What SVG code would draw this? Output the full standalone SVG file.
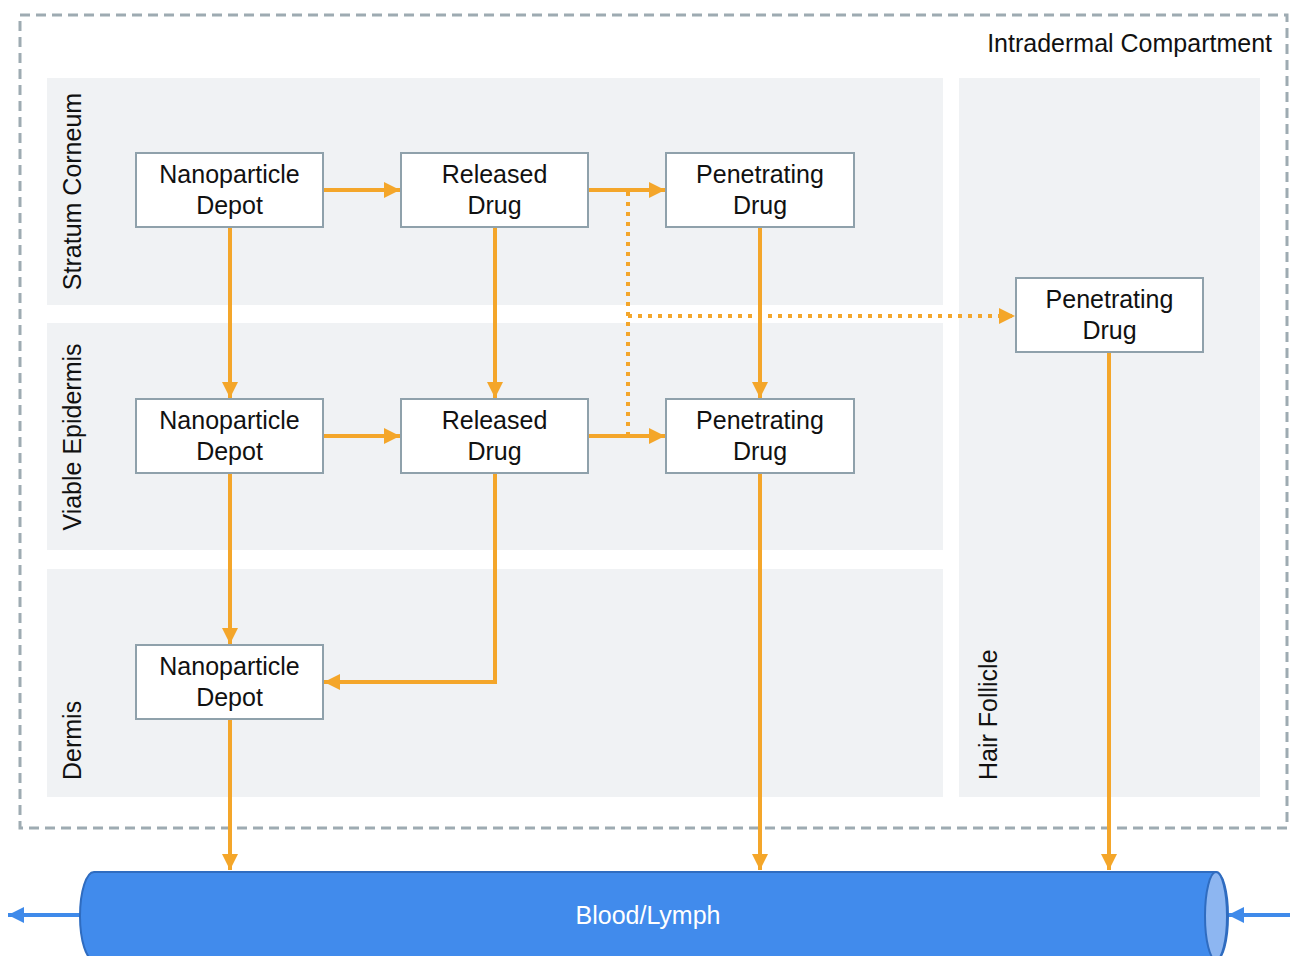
<svg xmlns="http://www.w3.org/2000/svg" width="1290" height="956" viewBox="0 0 1290 956">
<defs>
<style>
.lane{fill:#f0f2f4}
.node rect{fill:#fff;stroke:#8fa1ab;stroke-width:2}
.t{font-family:"Liberation Sans",Arial,sans-serif;font-size:25px;fill:#111;text-anchor:middle}
.lbl{font-family:"Liberation Sans",Arial,sans-serif;font-size:25px;fill:#111}
.c{fill:none;stroke:#f4a62a;stroke-width:4}
.dot{fill:none;stroke:#f4a62a;stroke-width:4;stroke-dasharray:4 6}
.b{fill:none;stroke:#3f8aea;stroke-width:4}
</style>
<marker id="ah" viewBox="0 0 10 10" refX="10" refY="5" markerWidth="4" markerHeight="4" markerUnits="strokeWidth" orient="auto"><path d="M0,0 L10,5 L0,10 z" fill="#f4a62a"/></marker>
<marker id="bh" viewBox="0 0 10 10" refX="10" refY="5" markerWidth="4" markerHeight="4" markerUnits="strokeWidth" orient="auto"><path d="M0,0 L10,5 L0,10 z" fill="#3f8aea"/></marker>
</defs>
<rect x="0" y="0" width="1290" height="956" fill="#fff"/>
<g id="compartment">
<rect x="20" y="15" width="1267" height="813" fill="none" stroke="#9eabb2" stroke-width="3" stroke-dasharray="10 6"/>
<text class="lbl" x="1272" y="52" text-anchor="end">Intradermal Compartment</text>
</g>
<g id="lanes">
<rect class="lane" x="47" y="78" width="896" height="227"/>
<rect class="lane" x="47" y="323" width="896" height="227"/>
<rect class="lane" x="47" y="569" width="896" height="228"/>
<rect class="lane" x="959" y="78" width="301" height="719"/>
<text class="lbl" transform="translate(81,191.5) rotate(-90)" text-anchor="middle">Stratum Corneum</text>
<text class="lbl" transform="translate(81,437) rotate(-90)" text-anchor="middle">Viable Epidermis</text>
<text class="lbl" transform="translate(81,780) rotate(-90)">Dermis</text>
<text class="lbl" transform="translate(997,780) rotate(-90)">Hair Follicle</text>
</g>
<g id="connectors">
<path class="dot" d="M628,192 V434"/>
<path class="dot" d="M628,316 H1015" marker-end="url(#ah)"/>
<path class="c" d="M323,190 H400" marker-end="url(#ah)"/>
<path class="c" d="M588,190 H665" marker-end="url(#ah)"/>
<path class="c" d="M323,436 H400" marker-end="url(#ah)"/>
<path class="c" d="M588,436 H665" marker-end="url(#ah)"/>
<path class="c" d="M230,227 V398" marker-end="url(#ah)"/>
<path class="c" d="M495,227 V398" marker-end="url(#ah)"/>
<path class="c" d="M760,227 V398" marker-end="url(#ah)"/>
<path class="c" d="M230,473 V644" marker-end="url(#ah)"/>
<path class="c" d="M495,473 V682 H324" marker-end="url(#ah)"/>
<path class="c" d="M230,719 V870" marker-end="url(#ah)"/>
<path class="c" d="M760,473 V870" marker-end="url(#ah)"/>
<path class="c" d="M1109,352 V870" marker-end="url(#ah)"/>
<path class="b" d="M82,915 H8" marker-end="url(#bh)"/>
<path class="b" d="M1290,915 H1228" marker-end="url(#bh)"/>
</g>
<g id="np1" class="node"><rect x="136" y="153" width="187" height="74"/><text class="t" x="229.5" y="183">Nanoparticle</text><text class="t" x="229.5" y="214">Depot</text></g>
<g id="rd1" class="node"><rect x="401" y="153" width="187" height="74"/><text class="t" x="494.5" y="183">Released</text><text class="t" x="494.5" y="214">Drug</text></g>
<g id="pd1" class="node"><rect x="666" y="153" width="188" height="74"/><text class="t" x="760" y="183">Penetrating</text><text class="t" x="760" y="214">Drug</text></g>
<g id="pdhf" class="node"><rect x="1016" y="278" width="187" height="74"/><text class="t" x="1109.5" y="308">Penetrating</text><text class="t" x="1109.5" y="339">Drug</text></g>
<g id="np2" class="node"><rect x="136" y="399" width="187" height="74"/><text class="t" x="229.5" y="429">Nanoparticle</text><text class="t" x="229.5" y="460">Depot</text></g>
<g id="rd2" class="node"><rect x="401" y="399" width="187" height="74"/><text class="t" x="494.5" y="429">Released</text><text class="t" x="494.5" y="460">Drug</text></g>
<g id="pd2" class="node"><rect x="666" y="399" width="188" height="74"/><text class="t" x="760" y="429">Penetrating</text><text class="t" x="760" y="460">Drug</text></g>
<g id="np3" class="node"><rect x="136" y="645" width="187" height="74"/><text class="t" x="229.5" y="675">Nanoparticle</text><text class="t" x="229.5" y="706">Depot</text></g>
<g id="blood">
<path d="M94,872 H1216 A12,44 0 0 1 1216,960 H94 A14,44 0 0 1 94,872 z" fill="#418bec" stroke="#2f6cc0" stroke-width="2"/>
<ellipse cx="1216" cy="916" rx="11" ry="44" fill="#8db6f1" stroke="#2f6cc0" stroke-width="2"/>
<text x="648" y="924" font-family="Liberation Sans, Arial, sans-serif" font-size="25" fill="#fff" text-anchor="middle">Blood/Lymph</text>
</g>
</svg>
